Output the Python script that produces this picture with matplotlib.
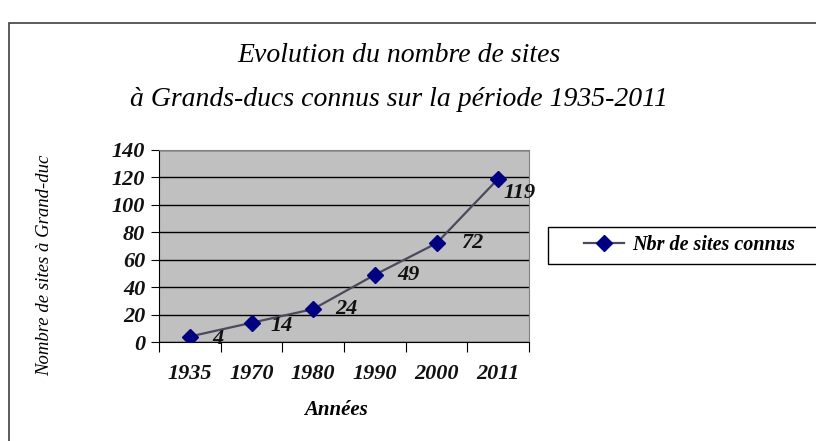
import matplotlib
matplotlib.use('Agg')
import matplotlib.pyplot as plt
import matplotlib.patches as patches
import numpy as np

years = ['1935', '1970', '1980', '1990', '2000', '2011']
sites = [4, 14, 24, 49, 72, 119]
series_name = 'Nbr de sites connus'
title = 'Evolution du nombre de sites\nà Grands-ducs connus sur la période 1935-2011'
ylabel = 'Nombre de sites à Grand-duc'
xlabel = 'Années'

# offsets (points) for the data labels, like Excel placed them
label_off = [(16, -2), (14, -2), (16, 0), (16, 0), (18, 0), (4, -10)]

W, H = 816, 441
fig = plt.figure(figsize=(W / 100, H / 100), dpi=100)
fig.patch.set_facecolor('white')

# outer chart frame, cut off by the right and bottom edges
fig.patches.append(patches.Rectangle((9 / W, -0.1), 1.1, 1 - 23 / H + 0.1,
                                     transform=fig.transFigure, fill=False,
                                     edgecolor='#404040', linewidth=1.2))

ax = fig.add_axes([159 / W, 1 - 342 / H, 370 / W, 192 / H])
ax.set_facecolor('#c0c0c0')

x = np.arange(len(years))
ax.plot(x, sites, color='#4a4a5c', linewidth=1.6, marker='D', markersize=8,
        markerfacecolor='#000080', markeredgecolor='#000080', label=series_name,
        zorder=3)

for xi, v, off in zip(x, sites, label_off):
    ax.annotate(str(v), (xi, v), xytext=off, textcoords='offset points',
                ha='left', va='center', fontsize=16, fontstyle='italic',
                fontweight='bold', family='Liberation Serif', color='#111111',
                annotation_clip=False, zorder=4)

ax.set_xlim(-0.5, len(years) - 0.5)
ax.set_ylim(0, 140)
ax.set_yticks(np.arange(0, 141, 20))
ax.yaxis.grid(True, color='#000000', linewidth=1.0)
ax.set_axisbelow(True)

# category boundaries as tick marks, labels at centres
ax.set_xticks(np.arange(-0.5, len(years), 1.0))
ax.set_xticklabels([])
ax.set_xticks(x, minor=True)
ax.set_xticklabels(years, minor=True)
ax.tick_params(axis='x', which='major', direction='out', length=7, color='#000000')
ax.tick_params(axis='x', which='minor', length=0, pad=16)
ax.tick_params(axis='y', direction='out', length=6, pad=4)

for lab in ax.get_xticklabels(minor=True) + ax.get_yticklabels():
    lab.set_family('Liberation Serif')
    lab.set_fontstyle('italic')
    lab.set_fontweight('bold')
    lab.set_fontsize(16)
    lab.set_color('#111111')

for s in ['top', 'right']:
    ax.spines[s].set_color('#808080')
for s in ['left', 'bottom']:
    ax.spines[s].set_color('#000000')

fig.text(399 / W, 1 - 78 / H, title, ha='center', va='center', fontsize=20,
         family='Liberation Serif', fontstyle='italic', linespacing=2.0)
fig.text(45 / W, 1 - 265 / H, ylabel, ha='center', va='center', rotation=90,
         fontsize=13.5, family='Liberation Serif', fontstyle='italic')
fig.text(336 / W, 1 - 410 / H, xlabel, ha='center', va='center', fontsize=15,
         family='Liberation Serif', fontstyle='italic', fontweight='bold')

# legend box, running off the right edge
fig.patches.append(patches.Rectangle((548 / W, 1 - 264 / H), 0.4, 37 / H,
                                     transform=fig.transFigure, fill=False,
                                     edgecolor='#000000', linewidth=1.0))
leg = fig.legend(loc='center left', bbox_to_anchor=(566 / W, 1 - 245.5 / H),
                 frameon=False, handlelength=2.0, handletextpad=0.4,
                 prop={'family': 'Liberation Serif', 'style': 'italic',
                       'weight': 'bold', 'size': 14.5})

fig.savefig('out.png', dpi=100)
